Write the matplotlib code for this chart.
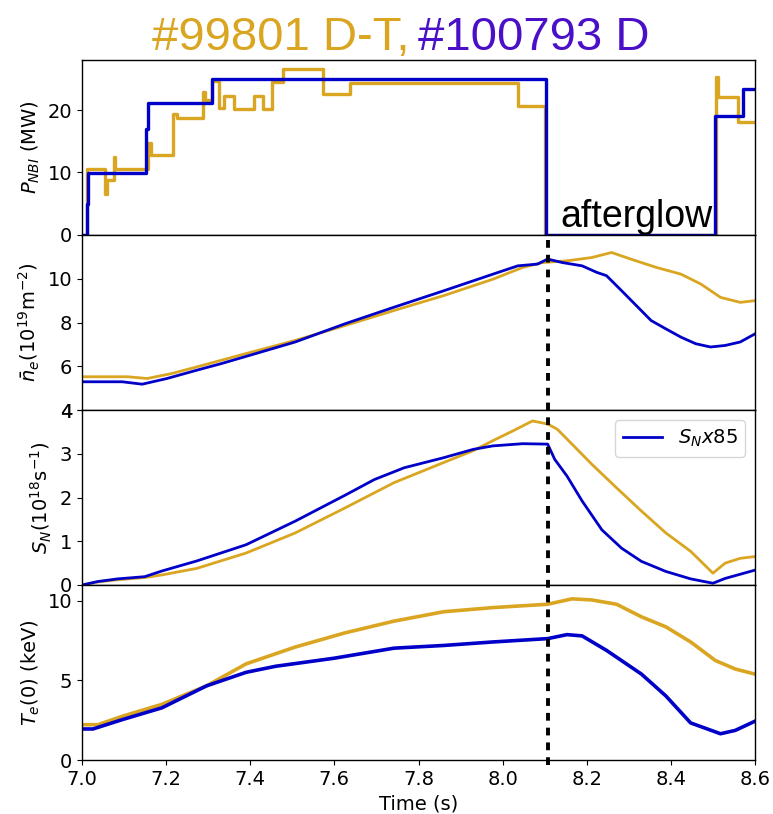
import matplotlib
matplotlib.use('Agg')
import matplotlib.pyplot as plt
from matplotlib.lines import Line2D
from matplotlib import transforms

# colours of the two shots
GOLD = '#DAA520'
BLUE = '#0000C8'
TITLE_BLUE = '#4B0FC8'

# NBI power steps (MW), value holds from t[i] until t[i+1]
pnbi_dt_t = [7.000, 7.013, 7.055, 7.060, 7.076, 7.078, 7.158, 7.163, 7.217, 7.225,
             7.288, 7.292, 7.308, 7.326, 7.338, 7.361, 7.409, 7.431, 7.451, 7.477,
             7.574, 7.637, 8.037, 8.101, 8.507, 8.512, 8.560, 8.600]
pnbi_dt = [0.0, 10.6, 6.6, 8.8, 12.5, 10.5, 14.7, 12.8, 19.4, 18.7,
           22.9, 21.6, 24.6, 20.3, 22.3, 20.1, 22.3, 20.1, 24.5, 26.5,
           22.5, 24.3, 20.7, 0.0, 25.3, 22.0, 18.0, 18.0]
pnbi_d_t = [7.000, 7.011, 7.015, 7.152, 7.157, 7.308, 8.104, 8.506, 8.571, 8.600]
pnbi_d = [0.0, 5.0, 9.9, 17.0, 21.1, 25.0, 0.0, 19.1, 23.4, 23.4]

# line averaged density (1e19 m^-2)
ne_d_t = [7.000, 7.096, 7.143, 7.202, 7.273, 7.331, 7.413, 7.507, 7.625, 7.742,
          7.860, 7.977, 8.036, 8.083, 8.107, 8.142, 8.189, 8.224, 8.247, 8.283,
          8.318, 8.353, 8.388, 8.424, 8.459, 8.494, 8.529, 8.565, 8.600]
ne_d = [5.29, 5.29, 5.18, 5.44, 5.82, 6.12, 6.58, 7.11, 7.94, 8.70,
        9.45, 10.21, 10.59, 10.67, 10.90, 10.74, 10.59, 10.29, 10.14, 9.45,
        8.77, 8.09, 7.71, 7.33, 7.03, 6.88, 6.95, 7.11, 7.48]
ne_dt_t = [7.000, 7.108, 7.155, 7.214, 7.273, 7.390, 7.507, 7.625, 7.742, 7.860,
           7.977, 8.048, 8.095, 8.153, 8.212, 8.259, 8.306, 8.365, 8.424, 8.471,
           8.518, 8.565, 8.600]
ne_dt = [5.52, 5.52, 5.44, 5.67, 5.97, 6.58, 7.18, 7.86, 8.55, 9.23,
         9.98, 10.52, 10.74, 10.82, 10.97, 11.20, 10.89, 10.52, 10.21, 9.76,
         9.15, 8.92, 9.00]

# neutron rate (1e18 /s)
sn_d_t = [7.000, 7.038, 7.085, 7.149, 7.190, 7.273, 7.390, 7.507, 7.625, 7.695,
          7.766, 7.860, 7.930, 7.977, 8.048, 8.107, 8.124, 8.153, 8.189, 8.236,
          8.283, 8.330, 8.388, 8.447, 8.500, 8.529, 8.600]
sn_d = [0.00, 0.08, 0.14, 0.19, 0.32, 0.55, 0.92, 1.46, 2.05, 2.41,
        2.68, 2.91, 3.10, 3.18, 3.23, 3.22, 2.87, 2.49, 1.92, 1.26,
        0.84, 0.54, 0.31, 0.14, 0.04, 0.15, 0.34]
sn_dt_t = [7.000, 7.038, 7.085, 7.149, 7.190, 7.273, 7.390, 7.507, 7.625, 7.742,
           7.860, 7.930, 7.977, 8.024, 8.071, 8.107, 8.130, 8.165, 8.212, 8.271,
           8.330, 8.388, 8.447, 8.500, 8.529, 8.565, 8.600]
sn_dt = [0.00, 0.07, 0.12, 0.17, 0.23, 0.38, 0.73, 1.19, 1.76, 2.34,
         2.80, 3.07, 3.30, 3.52, 3.75, 3.68, 3.56, 3.22, 2.76, 2.22,
         1.69, 1.19, 0.77, 0.27, 0.50, 0.61, 0.65]

# central electron temperature (keV)
te_d_t = [7.000, 7.026, 7.096, 7.190, 7.296, 7.390, 7.460, 7.600, 7.742, 7.860,
          7.977, 8.107, 8.153, 8.189, 8.247, 8.330, 8.388, 8.447, 8.518, 8.553, 8.600]
te_d = [1.95, 1.95, 2.54, 3.28, 4.66, 5.51, 5.89, 6.40, 7.03, 7.20,
        7.42, 7.63, 7.88, 7.80, 6.89, 5.40, 4.03, 2.33, 1.65, 1.86, 2.44]
te_dt_t = [7.000, 7.038, 7.096, 7.190, 7.296, 7.390, 7.507, 7.625, 7.742, 7.860,
           7.977, 8.107, 8.165, 8.212, 8.271, 8.330, 8.388, 8.447, 8.506, 8.553, 8.600]
te_dt = [2.22, 2.22, 2.75, 3.50, 4.66, 6.04, 7.10, 7.99, 8.73, 9.32,
         9.58, 9.79, 10.13, 10.06, 9.79, 9.00, 8.37, 7.42, 6.25, 5.72, 5.40]

t_end_nbi = 8.109  # start of afterglow

plt.rcParams['font.family'] = 'DejaVu Sans'
plt.rcParams['font.size'] = 14
plt.rcParams['axes.linewidth'] = 1.0

fig = plt.figure(figsize=(7.73, 8.14), dpi=100)
left, width = 82 / 773, 673 / 773
h = 175 / 814
tops = [60, 235, 410, 585]
axes = []
for top in tops:
    ax = fig.add_axes([left, 1 - (top + 175) / 814, width, h])
    axes.append(ax)
ax1, ax2, ax3, ax4 = axes

ax1.plot(pnbi_dt_t, pnbi_dt, color=GOLD, lw=2.4, drawstyle='steps-post')
ax1.plot(pnbi_d_t, pnbi_d, color=BLUE, lw=2.4, drawstyle='steps-post')
ax1.set_ylim(0, 28)
ax1.set_yticks([0, 10, 20])
ax1.set_ylabel('$P_{NBI}$ (MW)')
ax1.text(8.137, 1.3, 'afterglow', fontsize=27, family='Liberation Sans',
         va='baseline', ha='left')

ax2.plot(ne_dt_t, ne_dt, color=GOLD, lw=2.0)
ax2.plot(ne_d_t, ne_d, color=BLUE, lw=2.0)
ax2.set_ylim(4, 12)
ax2.set_yticks([4, 6, 8, 10])
ax2.set_ylabel(r'$\bar{n}_e(10^{19}$m$^{-2})$')

ax3.plot(sn_dt_t, sn_dt, color=GOLD, lw=2.0)
ax3.plot(sn_d_t, sn_d, color=BLUE, lw=2.0, label='$S_N x85$')
ax3.set_ylim(0, 4)
ax3.set_yticks([0, 1, 2, 3, 4])
ax3.set_ylabel('$S_N(10^{18}$s$^{-1})$')
ax3.legend(loc='upper right', fontsize=14)

ax4.plot(te_dt_t, te_dt, color=GOLD, lw=2.6)
ax4.plot(te_d_t, te_d, color=BLUE, lw=2.6)
ax4.set_ylim(0, 11)
ax4.set_yticks([0, 5, 10])
ax4.set_ylabel('$T_e$(0) (keV)')
ax4.set_xlabel('Time (s)')

for ax in axes:
    ax.set_xlim(7.0, 8.6)
    ax.set_xticks([7.0, 7.2, 7.4, 7.6, 7.8, 8.0, 8.2, 8.4, 8.6])
for ax in axes[:3]:
    ax.tick_params(bottom=False, labelbottom=False)
fig.align_ylabels(axes)

# dashed marker for end of beams, running through panels 2-4
trans = transforms.blended_transform_factory(ax4.transData, fig.transFigure)
fig.add_artist(Line2D([t_end_nbi, t_end_nbi], [1 - 240 / 814, 1 - 770 / 814],
                      transform=trans, color='black', lw=2.8,
                      linestyle=(0, (2, 1.8))))

# two coloured halves of the title
fig.text(410 / 773, 1 - 50 / 814, '#99801 D-T,', color=GOLD, fontsize=34,
         family='Liberation Sans', ha='right', va='baseline')
fig.text(418 / 773, 1 - 50 / 814, '#100793 D', color=TITLE_BLUE, fontsize=34,
         family='Liberation Sans', ha='left', va='baseline')

fig.savefig('out.png', dpi=100)
